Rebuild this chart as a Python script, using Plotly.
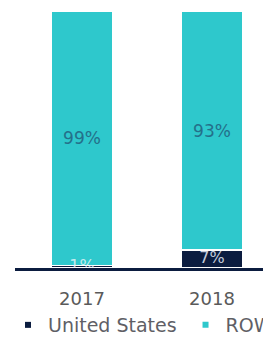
import plotly.graph_objects as go

categories = ["2017", "2018"]
us_values = [1, 7]
row_values = [99, 93]
us_labels = ["1%", "7%"]
row_labels = ["99%", "93%"]

NAVY = "#0b1c3f"
TEAL = "#2ec8cc"
FONT = "DejaVu Sans"

fig = go.Figure()
fig.add_trace(go.Bar(
    x=categories, y=us_values, name="United States",
    marker=dict(color=NAVY, line=dict(color="white", width=1.5)),
    showlegend=False, hoverinfo="skip",
))
fig.add_trace(go.Bar(
    x=categories, y=row_values, name="ROW",
    marker=dict(color=TEAL, line=dict(color="white", width=1.5)),
    text=row_labels, textposition="inside", insidetextanchor="middle",
    textfont=dict(family=FONT, size=17, color="#24708a"),
    showlegend=False, hoverinfo="skip",
))
# US labels centred in the US segments
fig.add_trace(go.Scatter(
    x=categories, y=[v / 2 for v in us_values], mode="text", text=us_labels,
    textposition="middle center", cliponaxis=False, showlegend=False,
    hoverinfo="skip",
    textfont=dict(family=FONT, size=16,
                  color=["rgba(235,245,250,0.8)", "#c3cbdb"]),
))

# legend entries (one legend per entry so the row can run past the right edge)
fig.add_trace(go.Scatter(x=[None], y=[None], mode="markers", name="United States",
                         legend="legend",
                         marker=dict(symbol="square", size=6, color=NAVY)))
fig.add_trace(go.Scatter(x=[None], y=[None], mode="markers", name="ROW",
                         legend="legend2",
                         marker=dict(symbol="square", size=6, color=TEAL)))

legend_common = dict(orientation="h", xref="container", yref="container",
                     y=0.048, xanchor="left", yanchor="middle",
                     font=dict(size=19, color="#5f5f66"),
                     itemwidth=30, bgcolor="rgba(0,0,0,0)")

fig.update_layout(
    width=263, height=333,
    margin=dict(l=7, r=0, t=3, b=73, autoexpand=False),
    barmode="stack", bargap=0.523,
    plot_bgcolor="white", paper_bgcolor="white",
    font=dict(family=FONT, color="#5a5a5a"),
    legend=dict(x=-0.032, **legend_common),
    legend2=dict(x=0.675, **legend_common),
    xaxis=dict(type="category", range=[-0.515, 1.454],
               showline=True, linecolor=NAVY, linewidth=3,
               ticks="", showgrid=False,
               tickfont=dict(size=18, color="#5a5a5a"), ticklabelstandoff=12),
    yaxis=dict(range=[0, 100], visible=False, showgrid=False, zeroline=False),
)

fig.write_html("out.html")
